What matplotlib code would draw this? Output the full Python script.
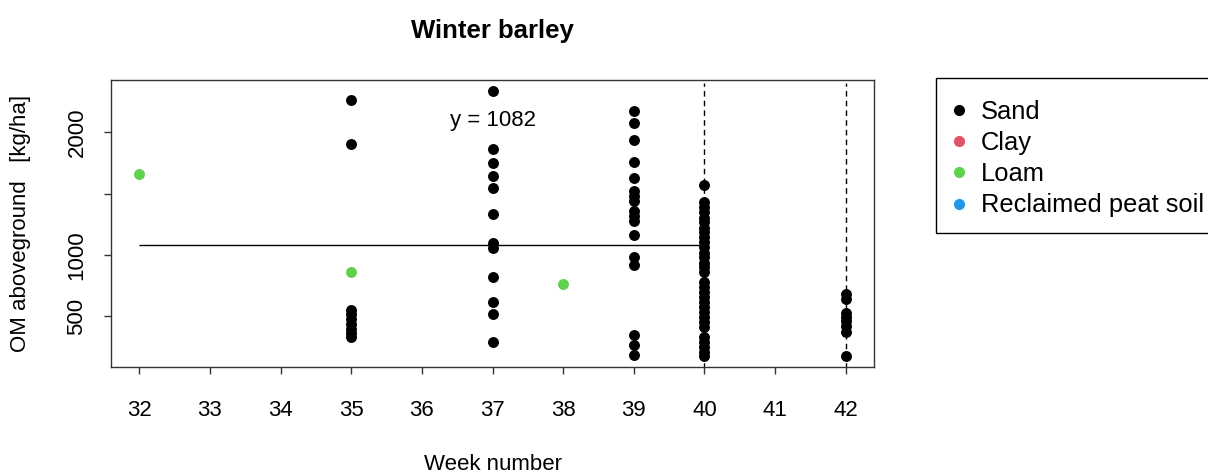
import matplotlib
matplotlib.use("Agg")
import matplotlib.pyplot as plt
from matplotlib.lines import Line2D
from matplotlib.patches import Rectangle

plt.rcParams['font.family'] = ['Liberation Sans', 'DejaVu Sans']

# Organic matter aboveground (kg/ha) by sampling week, per soil type
sand_week = ([35] * 9 + [37] * 12 + [39] * 17 + [40] * 31 + [42] * 8)
sand_om = [
    2266, 1908, 555, 520, 480, 440, 400, 365, 335,
    2341, 1862, 1754, 1645, 1550, 1333, 1095, 1055, 819, 615, 520, 290,
    2175, 2079, 1935, 1759, 1626, 1523, 1482, 1441, 1360, 1320, 1279, 1163,
    981, 919, 352, 271, 189,
    1575, 1430, 1395, 1350, 1305, 1270, 1225, 1190, 1145, 1105, 1065, 1020,
    985, 940, 900, 865, 780, 740, 700, 655, 615, 575, 535, 495, 455, 415,
    330, 290, 250, 210, 175,
    680, 645, 530, 495, 460, 425, 370, 180,
]
loam_week = [32, 35, 38]
loam_om = [1664, 862, 764]

soil_names = ["Sand", "Clay", "Loam", "Reclaimed peat soil"]
soil_colors = ["black", "#DF536B", "#61D04F", "#2297E6"]

mean_om = 1082
mean_from, mean_to = 32, 40
harvest_weeks = [40, 42]
harvest_top = 2400

week_ticks = list(range(32, 43))
om_ticks = [500, 1000, 1500, 2000]
om_tick_labels = ["500", "1000", "", "2000"]

W, H = 1208, 474
fig = plt.figure(figsize=(W / 100, H / 100), dpi=100)
ax = fig.add_axes([111 / W, 1 - 367 / H, (874 - 111) / W, (367 - 80) / H])

ax.scatter(sand_week, sand_om, s=62, color=soil_colors[0], zorder=3, linewidths=0)
ax.scatter(loam_week, loam_om, s=62, color=soil_colors[2], zorder=3, linewidths=0)

all_om = sand_om + loam_om
lo, hi = min(all_om), max(all_om)
pad = 0.04 * (hi - lo)
ax.set_ylim(lo - pad, hi + pad)
ax.set_xlim(31.6, 42.4)

ax.hlines(mean_om, mean_from, mean_to, color="black", lw=1, zorder=2)
ax.vlines(harvest_weeks, 0, harvest_top, color="black", lw=1,
          linestyles=[(0, (4, 3))], zorder=2)
ax.text(37, 2100, f"y = {mean_om}", ha="center", va="center", fontsize=16)

ax.set_xticks(week_ticks)
ax.set_xticklabels([str(w) for w in week_ticks])
ax.set_yticks(om_ticks)
ax.set_yticklabels(om_tick_labels, rotation=90, va="center")
ax.tick_params(axis="both", direction="out", length=5, width=1, labelsize=16,
               color="#333333")
ax.tick_params(axis="x", pad=18.5)
ax.tick_params(axis="y", pad=12)
for sp in ax.spines.values():
    sp.set_linewidth(1)
    sp.set_color("#333333")

ax.set_xlabel("Week number", fontsize=16, labelpad=24)
ax.set_ylabel("OM aboveground   [kg/ha]", fontsize=16, labelpad=25.5)
ax.set_title("Winter barley", fontsize=18.5, fontweight="bold", pad=30.5)

# Legend box, running off the right edge of the figure
fig.patches.append(Rectangle((936 / W, 1 - 233 / H), (1220 - 936) / W, (233 - 78) / H,
                             transform=fig.transFigure, fill=False,
                             edgecolor="black", lw=1, clip_on=False))

handles = [Line2D([], [], marker="o", linestyle="none", markersize=7,
                  markerfacecolor=c, markeredgecolor=c) for c in soil_colors]
leg = fig.legend(handles, soil_names, loc="upper left",
                 bbox_to_anchor=(955 / W, 1 - 100 / H), fontsize=18.4,
                 frameon=False, handlelength=0.3, handletextpad=0.7,
                 labelspacing=0.28, borderpad=0, borderaxespad=0)

fig.savefig("out.png", dpi=100)
